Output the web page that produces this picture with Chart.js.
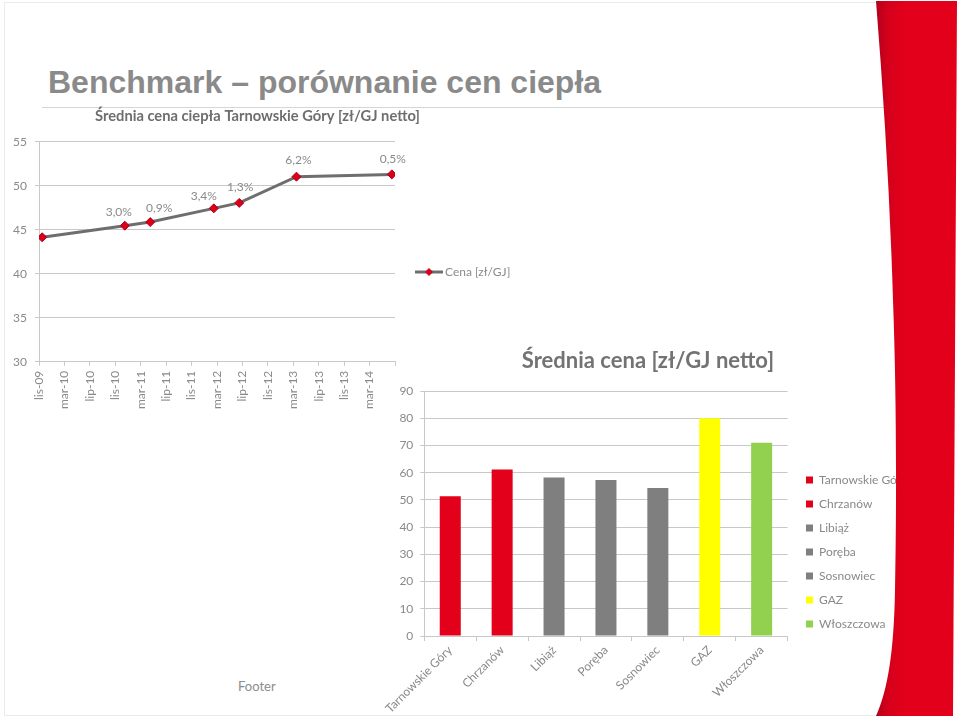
<!DOCTYPE html>
<html lang="pl">
<head>
<meta charset="utf-8">
<title>Benchmark – porównanie cen ciepła</title>
<script src="https://cdn.jsdelivr.net/npm/chart.js@4.4.1/dist/chart.umd.min.js"></script>
<style>
  html, body { margin: 0; padding: 0; background: #fff; }
  body { width: 960px; height: 717px; position: relative; overflow: hidden; font-family: Lato, "Open Sans", sans-serif; }
  .frame { position: absolute; left: 4px; top: 2px; width: 880px; height: 712px; border: 1px solid #ebebeb; border-right: none; }
  .slide-title { position: absolute; left: 48px; top: 66px; margin: 0; font: bold 32px/32px "Liberation Sans", Arial, sans-serif; color: #8a8a8a; white-space: nowrap; }
  .rule { position: absolute; left: 42px; top: 107px; width: 845px; height: 1px; background: #d6d6d6; }
  .footer { position: absolute; left: 238px; top: 678px; font-size: 13px; line-height: 16px; color: #8c8c8c; }
  canvas { position: absolute; }
  #lineChart { left: 0; top: 100px; }
  #barChart { left: 380px; top: 340px; }
  .ribbon { position: absolute; left: 0; top: 0; pointer-events: none; }
</style>
</head>
<body>
<div class="frame"></div>
<h1 class="slide-title">Benchmark – porównanie cen ciepła</h1>
<div class="rule"></div>
<canvas id="lineChart" width="515" height="344"></canvas>
<canvas id="barChart" width="524" height="424"></canvas>
<div class="footer">Footer</div>
<svg class="ribbon" width="960" height="717">
  <defs>
    <linearGradient id="ribbonFill" x1="0" x2="1" y1="0" y2="0">
      <stop offset="0" stop-color="#b3001b"/>
      <stop offset="0.15" stop-color="#d5001b"/>
      <stop offset="0.35" stop-color="#e2001a"/>
      <stop offset="1" stop-color="#e3001b"/>
    </linearGradient>
  </defs>
  <path d="M876 1 L957 1 L953 716 L876 716 C888 690 894 650 895 590 C897 480 896 380 893 300 C890 200 884 100 876 1 Z" fill="url(#ribbonFill)"/>
</svg>
<script>
// --- 1. DANE ---
const priceMonths = ['2009-11', '2010-12', '2011-04', '2012-02', '2012-06', '2013-03', '2014-06'];
const priceValues = [44.14, 45.46, 45.87, 47.43, 48.05, 51.03, 51.29];
const priceChanges = ['', '3,0%', '0,9%', '3,4%', '1,3%', '6,2%', '0,5%'];
const monthTickLabels = ['lis-09', 'mar-10', 'lip-10', 'lis-10', 'mar-11', 'lip-11', 'lis-11',
                         'mar-12', 'lip-12', 'lis-12', 'mar-13', 'lip-13', 'lis-13', 'mar-14'];

const cities = ['Tarnowskie Góry', 'Chrzanów', 'Libiąż', 'Poręba', 'Sosnowiec', 'GAZ', 'Włoszczowa'];
const cityPrices = [51.3, 61.2, 58.2, 57.3, 54.4, 80, 71];
const cityColors = ['#e2001a', '#e2001a', '#7f7f7f', '#7f7f7f', '#7f7f7f', '#ffff00', '#92d050'];

// --- 2. STYL ---
const GRID = '#c8c8c8';
const TEXT = '#8a8a8a';
Chart.defaults.font.family = 'Lato, "Open Sans", sans-serif';
Chart.defaults.font.size = 12;
Chart.defaults.color = TEXT;

// miesiące od lis-09, punkt w środku miesiąca (jak oś dat w Excelu)
function monthOffset(s) {
    const [y, m] = s.split('-').map(Number);
    return (y - 2009) * 12 + (m - 11) + 0.5;
}

// ikonka legendy: linia z rombem
const legendIcon = document.createElement('canvas');
legendIcon.width = 28;
legendIcon.height = 10;
(() => {
    const c = legendIcon.getContext('2d');
    c.strokeStyle = '#6e6e6e';
    c.lineWidth = 3;
    c.beginPath(); c.moveTo(0, 5); c.lineTo(28, 5); c.stroke();
    c.fillStyle = '#d9001b';
    c.beginPath(); c.moveTo(14, 1); c.lineTo(18, 5); c.lineTo(14, 9); c.lineTo(10, 5); c.closePath(); c.fill();
})();

// etykiety zmian % nad punktami
const LABEL_SHIFT = [[0, 0], [-6, -14], [9, -14], [-10, -12], [1, -16], [2, -17], [1, -15]];
const changeLabels = {
    id: 'changeLabels',
    afterDatasetsDraw(chart) {
        const ctx = chart.ctx;
        const points = chart.getDatasetMeta(0).data;
        ctx.save();
        ctx.font = '12px Lato, "Open Sans", sans-serif';
        ctx.fillStyle = TEXT;
        ctx.textAlign = 'center';
        ctx.textBaseline = 'middle';
        points.forEach((p, i) => {
            if (!priceChanges[i]) return;
            const [dx, dy] = LABEL_SHIFT[i];
            ctx.fillText(priceChanges[i], p.x + dx, p.y + dy);
        });
        ctx.restore();
    }
};

// --- 3. WYKRES LINIOWY ---
new Chart(document.getElementById('lineChart'), {
    type: 'line',
    data: {
        datasets: [{
            label: 'Cena [zł/GJ]',
            data: priceMonths.map((m, i) => ({ x: monthOffset(m), y: priceValues[i] })),
            borderColor: '#6e6e6e',
            borderWidth: 3,
            tension: 0,
            pointStyle: 'rectRot',
            pointRadius: 4.5,
            pointBackgroundColor: '#d9001b',
            pointBorderColor: '#b00018',
            pointBorderWidth: 1
        }]
    },
    options: {
        responsive: false,
        animation: false,
        plugins: {
            title: {
                display: true,
                text: 'Średnia cena ciepła Tarnowskie Góry [zł/GJ netto]',
                color: '#6e6e6e',
                font: { size: 14.7, weight: 'bold' },
                padding: { top: 7.2, bottom: 16.9 }
            },
            legend: {
                position: 'right',
                maxWidth: 100,
                labels: {
                    usePointStyle: true,
                    pointStyleWidth: 20,
                    padding: 4,
                    color: TEXT,
                    generateLabels: chart => Chart.defaults.plugins.legend.labels.generateLabels(chart)
                        .map(item => Object.assign(item, { pointStyle: legendIcon }))
                }
            },
            tooltip: { enabled: false }
        },
        scales: {
            x: {
                type: 'linear',
                min: 0,
                max: 56,
                grid: { drawOnChartArea: false, color: GRID, tickLength: 4 },
                border: { color: GRID },
                ticks: {
                    stepSize: 4,
                    autoSkip: false,
                    minRotation: 90,
                    maxRotation: 90,
                    padding: 5,
                    callback: v => monthTickLabels[v / 4] || ''
                },
                afterFit: s => { s.height = 82.3; }
            },
            y: {
                min: 30,
                max: 55,
                grid: { color: GRID, tickLength: 4 },
                border: { color: GRID },
                ticks: { stepSize: 5, padding: 8 },
                afterFit: s => { s.width = 39; }
            },
            // odstęp między obszarem wykresu a legendą
            gap: {
                type: 'linear',
                position: 'right',
                grid: { display: false },
                border: { display: false },
                ticks: { display: false },
                afterFit: s => { s.width = 20; }
            }
        }
    },
    plugins: [changeLabels]
});

// --- 4. WYKRES SŁUPKOWY ---
new Chart(document.getElementById('barChart'), {
    type: 'bar',
    data: {
        labels: cities,
        datasets: [{
            label: 'Średnia cena [zł/GJ netto]',
            data: cityPrices,
            backgroundColor: cityColors,
            barPercentage: 0.405,
            categoryPercentage: 1
        }]
    },
    options: {
        responsive: false,
        animation: false,
        layout: { padding: { left: 12 } },
        plugins: {
            title: {
                display: true,
                text: 'Średnia cena [zł/GJ netto]',
                color: '#737373',
                font: { size: 22, weight: 'bold' },
                padding: { top: 7.8, bottom: 16.8 }
            },
            legend: {
                position: 'right',
                maxWidth: 110,
                labels: {
                    boxWidth: 7,
                    boxHeight: 7,
                    padding: 12,
                    color: TEXT,
                    generateLabels: () => cities.map((c, i) => ({
                        text: c, fillStyle: cityColors[i], strokeStyle: cityColors[i],
                        lineWidth: 0, hidden: false, index: i, fontColor: TEXT
                    }))
                }
            },
            tooltip: { enabled: false }
        },
        scales: {
            x: {
                grid: { drawOnChartArea: false, color: GRID, tickLength: 5, offset: true },
                border: { color: GRID },
                ticks: { minRotation: 45, maxRotation: 45, autoSkip: false, padding: 2 },
                afterFit: s => { s.height = 128; }
            },
            y: {
                min: 0,
                max: 90,
                grid: { color: GRID, tickLength: 4 },
                border: { color: GRID },
                ticks: { stepSize: 10, padding: 7 },
                afterFit: s => { s.width = 32.3; }
            },
            // odstęp między obszarem wykresu a legendą
            gap: {
                type: 'linear',
                position: 'right',
                grid: { display: false },
                border: { display: false },
                ticks: { display: false },
                afterFit: s => { s.width = 6.4; }
            }
        }
    }
});
</script>
</body>
</html>
